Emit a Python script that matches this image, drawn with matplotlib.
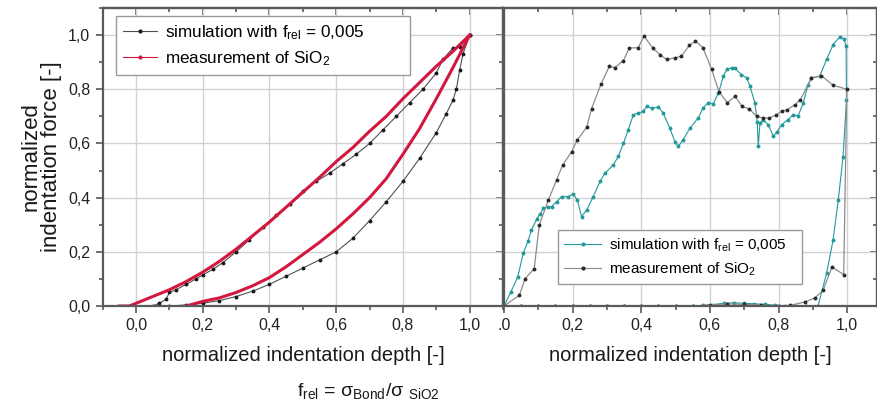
import matplotlib
matplotlib.use("Agg")
import matplotlib.pyplot as plt
from matplotlib.lines import Line2D
from matplotlib.ticker import MultipleLocator, FixedLocator, FixedFormatter

plt.rcParams['font.family'] = ['Liberation Sans', 'DejaVu Sans']
plt.rcParams['mathtext.fontset'] = 'custom'
plt.rcParams['mathtext.rm'] = 'Liberation Sans'
plt.rcParams['mathtext.it'] = 'Liberation Sans'

############### data: left panel ################
sim_load_x = [0.05, 0.07, 0.09, 0.10, 0.12, 0.15, 0.18, 0.20, 0.23, 0.26, 0.30, 0.34, 0.38,
              0.42, 0.46, 0.50, 0.54, 0.58, 0.62, 0.66, 0.70, 0.74, 0.78, 0.82, 0.86, 0.90,
              0.92, 0.95, 0.97, 1.00]
sim_load_y = [0.0, 0.01, 0.025, 0.05, 0.06, 0.08, 0.10, 0.115, 0.135, 0.16, 0.20, 0.245, 0.29,
              0.335, 0.375, 0.425, 0.46, 0.49, 0.525, 0.56, 0.60, 0.65, 0.70, 0.75, 0.80, 0.86,
              0.91, 0.953, 0.955, 1.00]
sim_unload_x = [0.10, 0.15, 0.20, 0.25, 0.30, 0.35, 0.40, 0.45, 0.50, 0.55, 0.60, 0.65, 0.70,
                0.75, 0.80, 0.85, 0.90, 0.93, 0.95, 0.96, 0.97, 0.98, 1.00]
sim_unload_y = [0.0, 0.004, 0.01, 0.02, 0.035, 0.055, 0.08, 0.11, 0.14, 0.17, 0.20, 0.25, 0.315,
                0.385, 0.46, 0.545, 0.64, 0.71, 0.76, 0.80, 0.87, 0.93, 1.00]

meas_load_x = [-0.05, -0.02, 0.0, 0.05, 0.10, 0.15, 0.20, 0.25, 0.30, 0.35, 0.40, 0.45, 0.50,
               0.55, 0.60, 0.65, 0.70, 0.75, 0.80, 0.85, 0.90, 0.95, 1.00]
meas_load_y = [0.0, 0.0, 0.01, 0.035, 0.06, 0.09, 0.125, 0.165, 0.21, 0.26, 0.31, 0.365, 0.42,
               0.475, 0.533, 0.585, 0.645, 0.70, 0.765, 0.825, 0.885, 0.94, 1.00]
meas_unload_x = [0.15, 0.20, 0.25, 0.30, 0.35, 0.40, 0.45, 0.50, 0.55, 0.60, 0.65, 0.70, 0.75,
                 0.80, 0.85, 0.90, 0.95, 1.00]
meas_unload_y = [0.0, 0.017, 0.03, 0.05, 0.075, 0.105, 0.145, 0.19, 0.235, 0.285, 0.34, 0.40,
                 0.47, 0.56, 0.655, 0.765, 0.88, 1.00]

############### data: right panel ################
teal_x = [0.0, 0.02, 0.04, 0.056, 0.07, 0.08, 0.095, 0.105, 0.115, 0.128, 0.139, 0.153, 0.168,
          0.187, 0.202, 0.214, 0.226, 0.241, 0.26, 0.28, 0.294, 0.318, 0.333, 0.348, 0.362,
          0.377, 0.391, 0.406, 0.416, 0.43, 0.45, 0.464, 0.483, 0.498, 0.508, 0.522, 0.542,
          0.566, 0.58, 0.595, 0.61, 0.625, 0.639, 0.649, 0.663, 0.673, 0.692, 0.707, 0.717,
          0.731, 0.738, 0.741, 0.746, 0.755, 0.77, 0.785, 0.796, 0.809, 0.828, 0.843, 0.857,
          0.872, 0.886, 0.896, 0.92, 0.94, 0.959, 0.979, 0.99, 0.997,
          0.998, 0.988, 0.974, 0.959, 0.94, 0.915,
          0.88, 0.85, 0.82, 0.79, 0.76, 0.73, 0.70, 0.67, 0.64, 0.61, 0.58, 0.55, 0.50,
          0.45, 0.40, 0.35, 0.30, 0.25, 0.20, 0.15, 0.10, 0.05, 0.0]
teal_y = [0.0, 0.052, 0.107, 0.194, 0.24, 0.28, 0.32, 0.34, 0.36, 0.365, 0.367, 0.385, 0.404,
          0.404, 0.414, 0.39, 0.33, 0.354, 0.404, 0.46, 0.49, 0.52, 0.552, 0.60, 0.65,
          0.706, 0.712, 0.718, 0.737, 0.73, 0.735, 0.712, 0.657, 0.607, 0.589, 0.614, 0.657,
          0.694, 0.731, 0.75, 0.747, 0.786, 0.848, 0.873, 0.879, 0.877, 0.854, 0.842, 0.811,
          0.75, 0.68, 0.59, 0.675, 0.688, 0.669, 0.626, 0.644, 0.669, 0.688, 0.706, 0.702,
          0.749, 0.817, 0.842, 0.848, 0.91, 0.965, 0.994, 0.986, 0.96,
          0.76, 0.55, 0.39, 0.243, 0.12, 0.0,
          0.0, 0.0, 0.001, 0.003, 0.006, 0.008, 0.01, 0.012, 0.01, 0.005, 0.002, 0.0, 0.0,
          0.0, 0.0, 0.0, 0.0, 0.0, 0.0, 0.0, 0.0, 0.0, 0.0]

gray_x = [0.0, 0.045, 0.061, 0.088, 0.103, 0.129, 0.153, 0.171, 0.197, 0.214, 0.241, 0.255,
          0.283, 0.307, 0.323, 0.348, 0.365, 0.391, 0.408, 0.433, 0.454, 0.474, 0.498, 0.517,
          0.54, 0.558, 0.58, 0.605, 0.627, 0.651, 0.673, 0.694, 0.715, 0.736, 0.755, 0.773,
          0.794, 0.809, 0.826, 0.848, 0.864, 0.896, 0.925, 0.959, 0.999,
          0.99, 0.956, 0.93, 0.906, 0.877, 0.833,
          0.80, 0.75, 0.70, 0.65, 0.60, 0.55, 0.50, 0.45, 0.40, 0.35, 0.30, 0.25, 0.20,
          0.15, 0.10, 0.05, 0.0]
gray_y = [0.0, 0.04, 0.10, 0.138, 0.30, 0.39, 0.465, 0.52, 0.57, 0.614, 0.66, 0.728, 0.82,
          0.885, 0.88, 0.906, 0.953, 0.953, 0.996, 0.953, 0.928, 0.91, 0.916, 0.922, 0.962,
          0.978, 0.953, 0.873, 0.79, 0.75, 0.774, 0.737, 0.727, 0.70, 0.694, 0.694, 0.706,
          0.718, 0.725, 0.743, 0.762, 0.842, 0.85, 0.815, 0.80,
          0.116, 0.144, 0.058, 0.03, 0.015, 0.002,
          0.0, 0.003, 0.006, 0.008, 0.004, 0.0, 0.0, 0.0, 0.0, 0.0, 0.0, 0.0, 0.0,
          0.0, 0.0, 0.0, 0.0]

ticks = [0.0, 0.2, 0.4, 0.6, 0.8, 1.0]
tick_labels = ['0,0', '0,2', '0,4', '0,6', '0,8', '1,0']
right_xlabels = ['.0', '0,2', '0,4', '0,6', '0,8', '1,0']

sim_label = r'simulation with f$_{\mathrm{rel}}$ = 0,005'
meas_label = r'measurement of SiO$_2$'

red = '#d3173f'
teal = '#23999b'
spine_c = '#5a5a5a'
grid_c = '#d2d2d2'

#################  functions ########################
def style_axes(ax, xlabels, show_left):
    ax.set_ylim(0, 1.1)
    ax.grid(True, color=grid_c, lw=1.0)
    ax.set_axisbelow(True)
    for s in ax.spines.values():
        s.set_color(spine_c)
        s.set_linewidth(1.6)
    ax.xaxis.set_major_locator(FixedLocator(ticks))
    ax.xaxis.set_major_formatter(FixedFormatter(xlabels))
    ax.xaxis.set_minor_locator(MultipleLocator(0.1))
    ax.yaxis.set_major_locator(FixedLocator(ticks))
    ax.yaxis.set_major_formatter(FixedFormatter(tick_labels))
    ax.yaxis.set_minor_locator(MultipleLocator(0.1))
    ax.tick_params(which='both', direction='out', color=spine_c, width=1.2,
                   labelsize=11.5, pad=4, labelcolor='#222222')
    ax.tick_params(which='major', length=5)
    ax.tick_params(which='minor', length=3)
    if not show_left:
        ax.tick_params(axis='y', which='both', left=False, labelleft=False)
    # top and right ticks point inward
    top = ax.secondary_xaxis('top')
    top.xaxis.set_major_locator(FixedLocator(ticks))
    top.xaxis.set_minor_locator(MultipleLocator(0.1))
    top.tick_params(which='both', direction='in', labeltop=False, color=spine_c, width=1.2)
    top.tick_params(which='major', length=5)
    top.tick_params(which='minor', length=3)
    top.spines['top'].set_color(spine_c)
    top.spines['top'].set_linewidth(1.6)
    rgt = ax.secondary_yaxis('right')
    rgt.yaxis.set_major_locator(FixedLocator(ticks))
    rgt.yaxis.set_minor_locator(MultipleLocator(0.1))
    rgt.tick_params(which='both', direction='in', labelright=False, color=spine_c, width=1.2)
    rgt.tick_params(which='major', length=5)
    rgt.tick_params(which='minor', length=3)
    rgt.spines['right'].set_color(spine_c)
    rgt.spines['right'].set_linewidth(1.6)
    ax.set_xlabel('normalized indentation depth [-]', fontsize=14.5, labelpad=9,
                  color='#1a1a1a')


######################   draw   ###################
fig = plt.figure(figsize=(8.78, 4.05), dpi=100)
W, H = 878.0, 405.0
ax1 = fig.add_axes([102.7 / W, (H - 306) / H, (503 - 102.7) / W, (306 - 8) / H])
ax2 = fig.add_axes([504 / W, (H - 306) / H, (877 - 504) / W, (306 - 8) / H])

# left panel
ax1.plot(sim_load_x, sim_load_y, color='#505050', lw=0.8, marker='o', ms=1.8,
         mfc='#1a1a1a', mec='#1a1a1a')
ax1.plot(sim_unload_x, sim_unload_y, color='#505050', lw=0.8, marker='o', ms=1.8,
         mfc='#1a1a1a', mec='#1a1a1a')
ax1.plot(meas_load_x, meas_load_y, color=red, lw=2.2)
ax1.plot(meas_unload_x, meas_unload_y, color=red, lw=2.2)
ax1.set_xlim(-0.1, 1.1)
style_axes(ax1, tick_labels, True)
ax1.set_ylabel('normalized\nindentation force [-]', fontsize=16, labelpad=4, linespacing=1.0,
               color='#1a1a1a')

h_sim = Line2D([], [], color='#505050', lw=0.8, marker='o', ms=2, mfc='#1a1a1a', mec='#1a1a1a')
h_meas = Line2D([], [], color=red, lw=0.8, marker='o', ms=2, mfc=red, mec=red)
leg1 = ax1.legend([h_sim, h_meas], [sim_label, meas_label], loc='upper left',
                  bbox_to_anchor=(0.033, 0.5, 0.735, 0.473), mode='expand',
                  borderaxespad=0, fontsize=12.3, fancybox=False, framealpha=1,
                  edgecolor='#9a9a9a', handlelength=2.0, handletextpad=0.5,
                  labelspacing=0.45, borderpad=0.4)
leg1.get_frame().set_linewidth(1.0)

# right panel
ax2.plot(teal_x, teal_y, color=teal, lw=0.8, marker='o', ms=1.8, mfc=teal, mec=teal)
ax2.plot(gray_x, gray_y, color='#8c8c8c', lw=0.9, marker='o', ms=1.8,
         mfc='#2a2a2a', mec='#2a2a2a')
ax2.set_xlim(0, 1.087)
style_axes(ax2, right_xlabels, False)

h_teal = Line2D([], [], color=teal, lw=0.8, marker='o', ms=2, mfc=teal, mec=teal)
h_gray = Line2D([], [], color='#8c8c8c', lw=0.8, marker='o', ms=2, mfc='#2a2a2a', mec='#2a2a2a')
leg2 = ax2.legend([h_teal, h_gray], [sim_label, meas_label], loc='upper left',
                  bbox_to_anchor=(0.145, 0.0, 0.654, 0.255), mode='expand',
                  borderaxespad=0, fontsize=11, fancybox=False, framealpha=1,
                  edgecolor='#9a9a9a', handlelength=2.4, handletextpad=0.5,
                  labelspacing=0.45, borderpad=0.4)
leg2.get_frame().set_linewidth(1.0)

fig.text(368 / W, 1 - 391 / H, r'f$_{\mathrm{rel}}$ = σ$_{\mathrm{Bond}}$/σ $_{\mathrm{SiO2}}$',
         fontsize=14, ha='center', va='center', color='#1a1a1a')

plt.savefig('out.png', dpi=100)
